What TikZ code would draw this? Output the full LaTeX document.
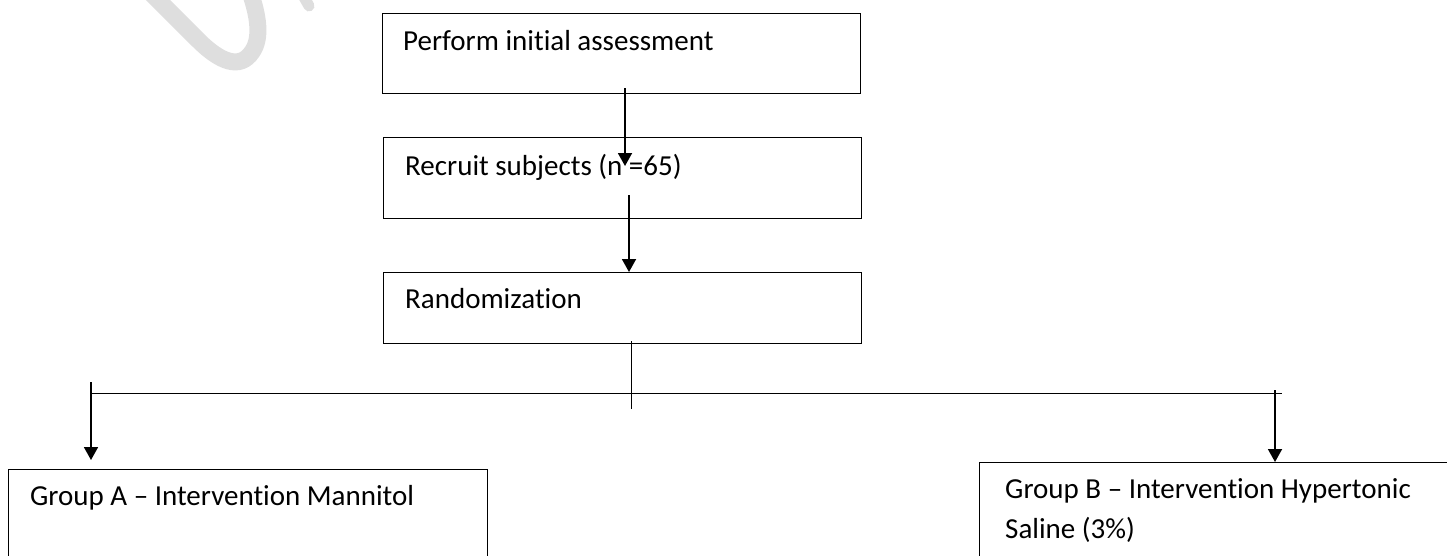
\documentclass[tikz,border=0pt]{standalone}
\usepackage{fontspec}
\setmainfont{Carlito}[Ligatures=NoCommon]
\usetikzlibrary{arrows.meta}
\definecolor{wmark}{RGB}{222,222,222}
\tikzset{
	stepbox/.style={draw, line width=1.3pt, inner sep=0pt, anchor=north west},
	steptext/.style={anchor=base west, inner sep=0pt, font=\fontsize{29}{40}\selectfont},
	flow/.style={line width=1.8pt, -{Triangle[width=14pt,length=13pt]}},
	split/.style={line width=1pt},
}

\begin{document}
\begin{tikzpicture}[x=1pt, y=-1pt]
			%%%%% START %%%%%
			\useasboundingbox (0, 0) rectangle (1447, 555);
			\clip (0, 0) rectangle (1447, 555);
			
			% watermark
			\draw[wmark, line width=17pt, line cap=round] (150, -8) -- (198, 40) .. controls (220, 62) and (240, 70) .. (252, 52) .. controls (262, 38) and (258, 15) .. (250, -8);
			\draw[wmark, line width=11pt, line cap=round] (300, -10) -- (309, 6);
			
			% boxes
			\node[stepbox, minimum width=478pt, minimum height=80pt] (assess) at (382, 13) {};
			\node[stepbox, minimum width=478pt, minimum height=81pt] (recruit) at (383, 137) {};
			\node[stepbox, minimum width=478pt, minimum height=71pt] (randomize) at (383, 272) {};
			\node[stepbox, minimum width=479pt, minimum height=120pt] (groupA) at (8, 469) {};
			\node[stepbox, minimum width=520pt, minimum height=120pt] (groupB) at (979, 462) {};
			
			\node[steptext] (assesstxt) at (403, 50) {Perform initial assessment};
			\node[steptext] (recruittxt) at (405, 175) {Recruit subjects (n =65)};
			\node[steptext] (randomizetxt) at (405, 308) {Randomization};
			\node[steptext] (groupAtxt) at (30, 505) {Group A – Intervention Mannitol};
			\node[steptext] (groupBtxt) at (1005, 498) {Group B – Intervention Hypertonic};
			\node[steptext] (groupBtxtb) at (1005, 538) {Saline (3\%)};
			
			% arrows
			\coordinate (a1) at (625, 88);
			\coordinate (a1e) at (625, 166);
			\draw[flow] (a1) -- (a1e);
			
			\coordinate (a2) at (629, 195);
			\draw[flow] (a2) -- (a2 |- randomize.north);
			
			\coordinate (s0) at (631, 341);
			\coordinate (s1) at (631, 409);
			\draw[split] (s0) -- (s1);
			
			\coordinate (sl) at (92, 393);
			\coordinate (sr) at (1282, 393);
			\draw[split] (sl) -- (sr);
			
			\coordinate (al) at (91, 382);
			\coordinate (ale) at (91, 460);
			\draw[flow] (al) -- (ale);
			
			\coordinate (ar) at (1275, 390);
			\draw[flow] (ar) -- (ar |- groupB.north);
			
			%%%%% END %%%%%
\end{tikzpicture}
\end{document}
